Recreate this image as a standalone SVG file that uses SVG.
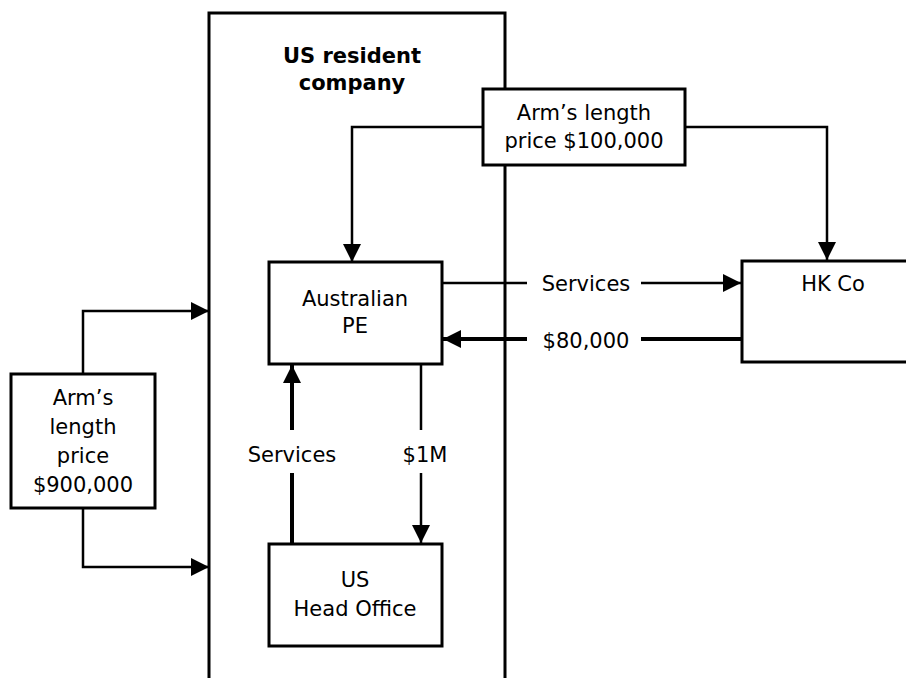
<svg xmlns="http://www.w3.org/2000/svg" width="906" height="678" viewBox="0 0 906 678">
<style>
  .box { fill: #fff; stroke: #000; stroke-width: 3; }
  .frame { fill: none; stroke: #000; stroke-width: 3; }
  .ln { fill: none; stroke: #000; stroke-width: 2.5; }
  .thick { fill: none; stroke: #000; stroke-width: 4; }
  text { font-family: "DejaVu Sans", "Liberation Sans", sans-serif; font-size: 21px; fill: #000; text-anchor: middle; }
  .bold { font-weight: bold; }
</style>
<defs>
  <marker id="arr" markerUnits="userSpaceOnUse" markerWidth="18" markerHeight="18" refX="18" refY="9" orient="auto">
    <path d="M0,0 L18,9 L0,18 z" fill="#000"/>
  </marker>
</defs>
<rect width="906" height="678" fill="#fff"/>

<g id="us-resident-company">
  <path class="frame" d="M209,678 V13 H505 V89 M505,165 V678"/>
  <text class="bold" x="352" y="63">US resident</text>
  <text class="bold" x="352" y="90">company</text>
</g>

<g id="connectors">
  <path class="ln" d="M484,127 H352 V262" marker-end="url(#arr)"/>
  <path class="ln" d="M685,127 H827 V260" marker-end="url(#arr)"/>
  <path class="ln" d="M442,283 H527"/>
  <path class="ln" d="M641,283 H741" marker-end="url(#arr)"/>
  <path class="thick" d="M742,339 H641"/>
  <path class="thick" d="M527,339 H443" marker-end="url(#arr)"/>
  <path class="ln" d="M83,374 V311 H209" marker-end="url(#arr)"/>
  <path class="ln" d="M83,508 V567 H209" marker-end="url(#arr)"/>
  <path class="thick" d="M292,544 V473"/>
  <path class="thick" d="M292,430 V365" marker-end="url(#arr)"/>
  <path class="ln" d="M421,364 V430"/>
  <path class="ln" d="M421,473 V543" marker-end="url(#arr)"/>
  <text x="586" y="291">Services</text>
  <text x="586" y="348">$80,000</text>
  <text x="292" y="462">Services</text>
  <text x="425" y="462">$1M</text>
</g>

<g id="arms-length-100k">
  <rect class="box" x="483" y="89" width="202" height="76"/>
  <text x="584" y="120">Arm’s length</text>
  <text x="584" y="148">price $100,000</text>
</g>

<g id="australian-pe">
  <rect class="box" x="269" y="262" width="173" height="102"/>
  <text x="355" y="306">Australian</text>
  <text x="355" y="333">PE</text>
</g>

<g id="hk-co">
  <rect class="box" x="742" y="261" width="180" height="101"/>
  <text x="833" y="291">HK Co</text>
</g>

<g id="arms-length-900k">
  <rect class="box" x="11" y="374" width="144" height="134"/>
  <text x="83" y="405">Arm’s</text>
  <text x="83" y="434">length</text>
  <text x="83" y="463">price</text>
  <text x="83" y="492">$900,000</text>
</g>

<g id="us-head-office">
  <rect class="box" x="269" y="544" width="173" height="102"/>
  <text x="355" y="587">US</text>
  <text x="355" y="616">Head Office</text>
</g>
</svg>
